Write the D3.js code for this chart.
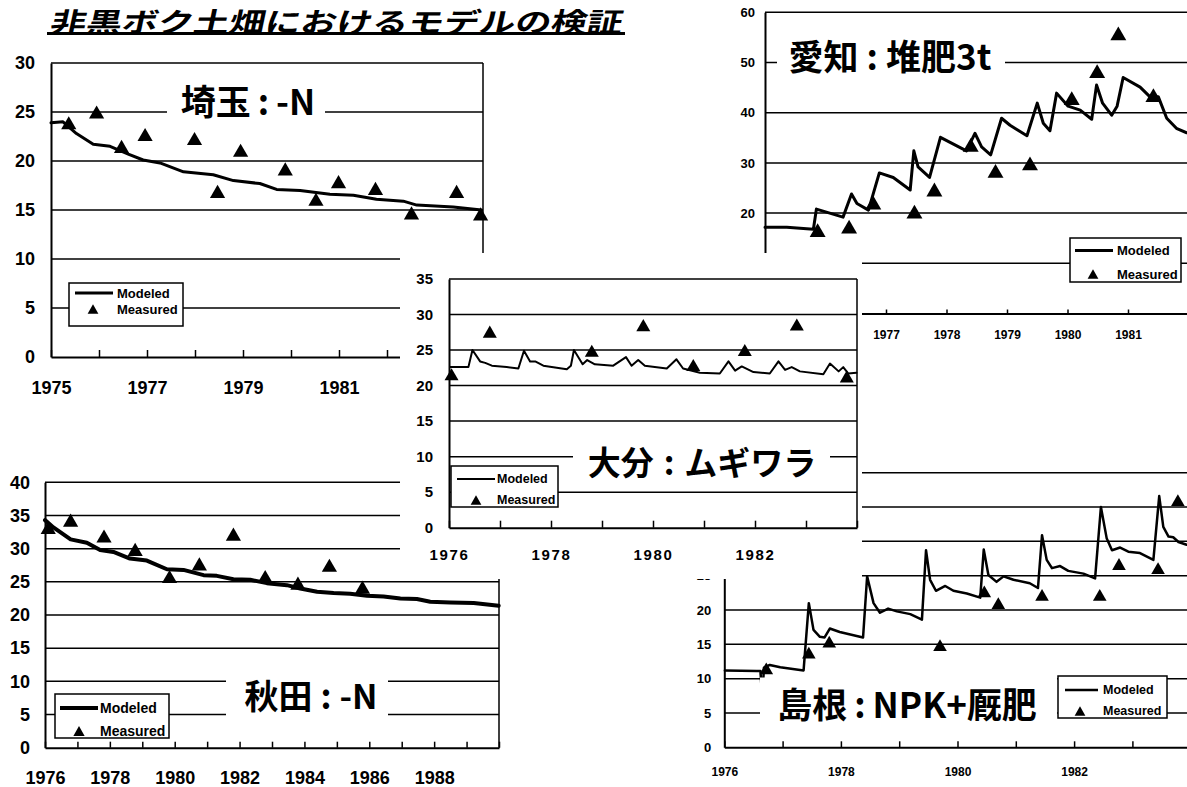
<!DOCTYPE html>
<html>
<head>
<meta charset="utf-8">
<script src="https://cdn.jsdelivr.net/npm/d3@7"></script>
<style>
  html, body { margin: 0; padding: 0; background: #fff; overflow: hidden; }
  svg { display: block; }
</style>
</head>
<body>
<svg id="chart" width="1187" height="787"></svg>
<script>
// ---------- data: [year, carbon] ----------
const titleText = "非黒ボク土畑におけるモデルの検証";
const legendLabels = ["Modeled", "Measured"];

// 埼玉:-N
const saitamaModeled = [[1975.0,23.9],[1975.25,24.0],[1975.53,22.8],[1975.88,21.7],[1976.23,21.5],[1976.61,20.7],[1976.92,20.1],[1977.27,19.8],[1977.76,18.9],[1978.38,18.6],[1978.8,18.0],[1979.35,17.7],[1979.7,17.1],[1980.19,17.0],[1980.81,16.6],[1981.3,16.5],[1981.78,16.1],[1982.34,15.9],[1982.62,15.5],[1983.38,15.3],[1983.97,15.0]];
const saitamaMeasured = [[1975.37,23.9],[1975.95,25.0],[1976.47,21.5],[1976.96,22.7],[1977.99,22.3],[1978.47,16.9],[1978.95,21.1],[1979.88,19.2],[1980.52,16.1],[1980.99,17.9],[1981.76,17.2],[1982.51,14.7],[1983.45,16.9],[1983.95,14.6]];
const saitamaGrid = [0,5,10,15,20,25,30];
const saitamaValueLabels = [0,5,10,15,20,25,30];
const saitamaYearLabels = [1975,1977,1979,1981];

// 愛知:堆肥3t
const aichiModeled = [[1975.0,17.2],[1975.36,17.2],[1975.8,16.8],[1975.85,20.8],[1976.29,19.2],[1976.43,23.8],[1976.52,21.9],[1976.71,20.6],[1976.89,28.0],[1977.12,27.1],[1977.4,24.6],[1977.46,32.4],[1977.53,29.2],[1977.72,27.1],[1977.9,35.1],[1978.33,32.4],[1978.47,35.9],[1978.58,33.2],[1978.73,31.6],[1978.91,38.9],[1979.05,37.5],[1979.33,35.4],[1979.5,41.9],[1979.6,37.9],[1979.71,36.4],[1979.82,43.9],[1980.01,41.3],[1980.21,40.5],[1980.4,38.7],[1980.48,45.5],[1980.58,41.9],[1980.73,39.5],[1980.82,41.3],[1980.92,47.0],[1981.2,45.1],[1981.36,43.2],[1981.5,43.2],[1981.64,38.9],[1981.8,36.9],[1981.97,36.0]];
const aichiMeasured = [[1975.87,16.6],[1976.39,17.3],[1976.79,22.1],[1977.47,20.3],[1977.8,24.7],[1978.4,33.6],[1978.81,28.4],[1979.38,29.9],[1980.07,42.9],[1980.49,48.3],[1980.84,55.8],[1981.42,43.5]];
const aichiGrid = [0,10,20,30,40,50,60];
const aichiValueLabels = [20,30,40,50,60];
const aichiYearLabels = [1977,1978,1979,1980,1981];

// 大分:ムギワラ
const oitaModeled = [[1976.02,22.6],[1976.38,22.6],[1976.46,25.0],[1976.61,23.4],[1976.71,23.2],[1976.84,22.8],[1977.13,22.6],[1977.36,22.4],[1977.47,24.9],[1977.59,23.4],[1977.69,23.4],[1977.85,22.8],[1978.31,22.3],[1978.39,22.8],[1978.45,25.0],[1978.62,23.0],[1978.71,23.6],[1978.86,23.0],[1979.22,22.8],[1979.47,24.0],[1979.58,22.8],[1979.71,23.6],[1979.84,22.8],[1980.27,22.4],[1980.46,23.7],[1980.59,22.4],[1980.92,21.8],[1981.31,21.7],[1981.48,23.4],[1981.61,22.1],[1981.74,22.7],[1981.97,21.9],[1982.29,21.7],[1982.46,23.4],[1982.59,22.2],[1982.72,22.6],[1982.88,22.0],[1983.34,21.6],[1983.47,23.1],[1983.64,22.0],[1983.73,22.6],[1983.83,21.7],[1983.99,21.8]];
const oitaMeasured = [[1976.05,21.6],[1976.8,27.6],[1978.8,24.9],[1979.81,28.5],[1980.79,22.9],[1981.8,25.0],[1982.82,28.6],[1983.8,21.3]];
const oitaGrid = [0,5,10,15,20,25,30,35];
const oitaValueLabels = [0,5,10,15,20,25,30,35];
const oitaYearLabels = [1976,1978,1980,1982];

// 秋田:-N
const akitaModeled = [[1976.0,34.3],[1976.26,33.2],[1976.79,31.4],[1977.29,30.9],[1977.7,29.8],[1978.11,29.5],[1978.62,28.5],[1979.14,28.2],[1979.76,26.9],[1980.27,26.8],[1980.89,26.0],[1981.3,25.9],[1981.81,25.4],[1982.33,25.3],[1982.84,24.8],[1983.46,24.5],[1983.87,24.0],[1984.39,23.5],[1984.9,23.3],[1985.41,23.2],[1985.93,22.9],[1986.44,22.8],[1986.96,22.5],[1987.47,22.4],[1987.88,22.0],[1988.5,21.9],[1989.22,21.8],[1989.99,21.4]];
const akitaMeasured = [[1976.1,33.2],[1976.79,34.3],[1977.82,31.9],[1978.78,29.9],[1979.84,25.8],[1980.76,27.7],[1981.81,32.2],[1982.79,25.8],[1983.8,24.8],[1984.77,27.5],[1985.79,24.2]];
const akitaGrid = [0,5,10,15,20,25,30,35,40];
const akitaValueLabels = [0,5,10,15,20,25,30,35,40];
const akitaYearLabels = [1976,1978,1980,1982,1984,1986,1988];

// 島根:NPK+厩肥
const shimaneModeled = [[1976.01,11.2],[1976.56,11.1],[1976.62,11.1],[1976.64,8.5],[1976.66,8.5],[1976.68,11.6],[1976.78,12.0],[1976.96,11.65],[1977.36,11.2],[1977.45,21.0],[1977.53,17.1],[1977.64,16.1],[1977.72,16.0],[1977.81,17.3],[1977.98,16.8],[1978.38,16.0],[1978.45,24.9],[1978.56,21.0],[1978.67,19.6],[1978.81,20.2],[1978.96,19.8],[1979.19,19.4],[1979.39,18.6],[1979.46,28.7],[1979.53,24.4],[1979.63,22.8],[1979.79,23.5],[1979.93,22.8],[1980.16,22.4],[1980.39,21.8],[1980.45,28.8],[1980.53,25.1],[1980.67,24.1],[1980.79,24.9],[1980.96,24.4],[1981.24,23.9],[1981.38,23.2],[1981.45,30.9],[1981.53,27.3],[1981.62,26.1],[1981.76,26.4],[1981.9,25.7],[1982.16,25.3],[1982.36,24.6],[1982.46,35.0],[1982.56,30.4],[1982.65,28.7],[1982.79,29.1],[1982.93,28.5],[1983.13,28.3],[1983.36,27.3],[1983.46,36.6],[1983.53,32.1],[1983.62,30.7],[1983.7,30.6],[1983.79,29.9],[1983.93,29.5]];
const shimaneMeasured = [[1976.72,11.5],[1977.45,13.8],[1977.8,15.4],[1979.7,14.9],[1980.46,22.7],[1980.7,21.0],[1981.45,22.2],[1982.44,22.2],[1982.77,26.7],[1983.44,26.1],[1983.78,36.0]];
const shimaneGrid = [0,5,10,15,20,25,30,35,40];
const shimaneValueLabels = [0,5,10,15,20,25];
const shimaneYearLabels = [1976,1978,1980,1982];

// ---------- drawing ----------
const svg = d3.select("#chart");
const AXIS_FONT = "'Liberation Sans', Arial, sans-serif";
const CJK_FONT = "'Noto Sans CJK JP', 'Noto Sans', sans-serif";

// triangle centred on its bounding box
const triangleMark = {
  draw(ctx, size) {
    const s = Math.sqrt(size * 4 / Math.sqrt(3));
    const h = s * Math.sqrt(3) / 2;
    ctx.moveTo(0, -h / 2);
    ctx.lineTo(s / 2, h / 2);
    ctx.lineTo(-s / 2, h / 2);
    ctx.closePath();
  }
};

function drawPanel(cfg) {
  const g = svg.append("g");
  const x = d3.scaleLinear().domain(cfg.xDomain).range([cfg.left, cfg.right]);
  const y = d3.scaleLinear().domain(cfg.yDomain).range([cfg.bottom, cfg.top]);

  if (cfg.background) {
    const b = cfg.background;
    g.append("rect").attr("x", b[0]).attr("y", b[1]).attr("width", b[2]).attr("height", b[3]).attr("fill", "#fff");
  }

  // horizontal gridlines (the highest one is the frame top)
  g.append("g").selectAll("line")
    .data(cfg.grid.filter(v => v > cfg.yDomain[0]))
    .join("line")
    .attr("x1", cfg.left).attr("x2", cfg.right)
    .attr("y1", d => y(d)).attr("y2", d => y(d))
    .attr("stroke", "#000").attr("stroke-width", 1.5);

  // right frame edge
  g.append("line")
    .attr("x1", cfg.right).attr("x2", cfg.right)
    .attr("y1", cfg.top).attr("y2", cfg.bottom)
    .attr("stroke", "#000").attr("stroke-width", 1.5);

  // y axis
  const yAxis = d3.axisLeft(y).tickValues(cfg.valueLabels).tickSize(0).tickPadding(cfg.yPad).tickFormat(d3.format("d"));
  const ya = g.append("g").attr("transform", `translate(${cfg.left},0)`).call(yAxis);
  ya.select(".domain").attr("stroke", "#000").attr("stroke-width", 2);
  ya.selectAll("text").attr("font-family", AXIS_FONT).attr("font-weight", "bold")
    .attr("font-size", cfg.yFont).attr("fill", "#000");

  // x axis with inward year ticks
  const years = d3.range(Math.ceil(cfg.xDomain[0]), Math.floor(cfg.xDomain[1]) + 1);
  const xAxis = d3.axisBottom(x).tickValues(years).tickSizeInner(-cfg.tickLen).tickSizeOuter(0)
    .tickPadding(cfg.xPad).tickFormat(d => cfg.yearLabels.includes(d) ? String(d) : "");
  const xa = g.append("g").attr("transform", `translate(0,${cfg.bottom})`).call(xAxis);
  xa.select(".domain").attr("stroke", "#000").attr("stroke-width", 2);
  xa.selectAll(".tick line").attr("stroke", "#000").attr("stroke-width", 1.5);
  xa.selectAll("text").attr("font-family", AXIS_FONT).attr("font-weight", "bold")
    .attr("font-size", cfg.xFont).attr("fill", "#000")
    .attr("letter-spacing", cfg.xSpacing || 0);
  xa.selectAll(".tick").filter(d => !cfg.yearLabels.includes(d)).select("text").remove();

  // modeled line
  const line = d3.line().x(d => x(d[0])).y(d => y(d[1]));
  g.append("path").datum(cfg.modeled)
    .attr("d", line).attr("fill", "none")
    .attr("stroke", "#000").attr("stroke-width", cfg.lineWidth)
    .attr("stroke-linejoin", "round").attr("stroke-linecap", "round");

  // measured points
  const sym = d3.symbol().type(triangleMark).size(cfg.markSize);
  g.append("g").selectAll("path").data(cfg.measured).join("path")
    .attr("transform", d => `translate(${x(d[0])},${y(d[1])})`)
    .attr("d", sym).attr("fill", "#000");

  // site label on a white backing, laid over the plot; extra room around the colon
  const L = cfg.label;
  g.append("rect").attr("x", L.box[0]).attr("y", L.box[1]).attr("width", L.box[2]).attr("height", L.box[3]).attr("fill", "#fff");
  const parts = L.text.split(":");
  const t = g.append("text")
    .attr("x", L.cx).attr("y", L.cy)
    .attr("text-anchor", "middle").attr("dominant-baseline", "central")
    .attr("font-family", CJK_FONT).attr("font-weight", 700).attr("font-size", L.fs)
    .attr("fill", "#000");
  t.append("tspan").text(parts[0]);
  t.append("tspan").attr("dx", L.gap).text(":");
  t.append("tspan").attr("dx", L.gap).text(parts[1]);

  // legend
  const lg = cfg.legend;
  const leg = g.append("g").attr("transform", `translate(${lg.x},${lg.y})`);
  leg.append("rect").attr("width", lg.w).attr("height", lg.h)
    .attr("fill", "#fff").attr("stroke", "#000").attr("stroke-width", 1.5);
  leg.append("line").attr("x1", lg.lineX[0]).attr("x2", lg.lineX[1])
    .attr("y1", lg.rowY[0]).attr("y2", lg.rowY[0])
    .attr("stroke", "#000").attr("stroke-width", cfg.lineWidth);
  leg.append("path").attr("transform", `translate(${lg.triX},${lg.rowY[1]})`)
    .attr("d", d3.symbol().type(triangleMark).size(lg.triSize)).attr("fill", "#000");
  leg.selectAll("text").data(legendLabels).join("text")
    .attr("x", lg.textX).attr("y", (d, i) => lg.rowY[i])
    .attr("dominant-baseline", "central")
    .attr("font-family", AXIS_FONT).attr("font-weight", "bold").attr("font-size", lg.fs)
    .attr("fill", "#000")
    .text(d => d);
}

// 埼玉
drawPanel({
  left: 51, right: 483, top: 63, bottom: 357,
  xDomain: [1975, 1984], yDomain: [0, 30], grid: saitamaGrid, valueLabels: saitamaValueLabels, yearLabels: saitamaYearLabels,
  yFont: 18, xFont: 18, yPad: 16, xPad: 24, tickLen: 7,
  modeled: saitamaModeled, measured: saitamaMeasured, lineWidth: 3, markSize: 100,
  label: { text: "埼玉:-N", cx: 248, cy: 99, fs: 35, gap: 7, box: [167, 84, 158, 34] },
  legend: { x: 69, y: 283, w: 114, h: 43, lineX: [6, 44], textX: 48, rowY: [10, 26], triX: 24, triSize: 50, fs: 13 }
});

// 愛知
drawPanel({
  left: 765, right: 1188.5, top: 12.3, bottom: 313.5,
  xDomain: [1975, 1982], yDomain: [0, 60], grid: aichiGrid, valueLabels: aichiValueLabels, yearLabels: aichiYearLabels,
  yFont: 13, xFont: 12, yPad: 10, xPad: 17, tickLen: 4,
  modeled: aichiModeled, measured: aichiMeasured, lineWidth: 3, markSize: 110,
  label: { text: "愛知:堆肥3t", cx: 890, cy: 54, fs: 35, gap: 8, box: [777, 38, 228, 34] },
  legend: { x: 1070, y: 238, w: 111, h: 44, lineX: [5, 43], textX: 47, rowY: [12.5, 36], triX: 23, triSize: 50, fs: 13 }
});

// 秋田
drawPanel({
  left: 45, right: 499, top: 482.3, bottom: 747.7,
  xDomain: [1976, 1990], yDomain: [0, 40], grid: akitaGrid, valueLabels: akitaValueLabels, yearLabels: akitaYearLabels,
  yFont: 18, xFont: 18, yPad: 15, xPad: 24, tickLen: 6,
  modeled: akitaModeled, measured: akitaMeasured, lineWidth: 4, markSize: 100,
  label: { text: "秋田:-N", cx: 311, cy: 694, fs: 34, gap: 8, box: [226, 676, 162, 46] },
  legend: { x: 55, y: 694, w: 114, h: 44, lineX: [5, 43], textX: 45, rowY: [14, 37], triX: 24, triSize: 55, fs: 14 }
});

// 島根
drawPanel({
  left: 724.3, right: 1190.7, top: 472.7, bottom: 747.3,
  xDomain: [1976, 1984], yDomain: [0, 40], grid: shimaneGrid, valueLabels: shimaneValueLabels, yearLabels: shimaneYearLabels,
  yFont: 13, xFont: 12, yPad: 13, xPad: 20, tickLen: 6,
  modeled: shimaneModeled, measured: shimaneMeasured, lineWidth: 2.5, markSize: 80,
  label: { text: "島根:NPK+厩肥", cx: 907, cy: 702, fs: 35, gap: 7, box: [760, 677.5, 297, 48] },
  legend: { x: 1058, y: 676, w: 109, h: 42, lineX: [7, 40], textX: 45, rowY: [14, 35], triX: 22, triSize: 50, fs: 12.5 }
});

// 大分 (laid over the others)
drawPanel({
  background: [400, 253, 462, 326],
  left: 449, right: 857, top: 279, bottom: 527.7,
  xDomain: [1976, 1984], yDomain: [0, 35], grid: oitaGrid, valueLabels: oitaValueLabels, yearLabels: oitaYearLabels,
  yFont: 15, xFont: 15, xSpacing: 1.7, yPad: 16, xPad: 22, tickLen: 7,
  modeled: oitaModeled, measured: oitaMeasured, lineWidth: 2, markSize: 85,
  label: { text: "大分:ムギワラ", cx: 702, cy: 461, fs: 33, gap: 10, box: [573, 444, 257, 34] },
  legend: { x: 451, y: 466, w: 107, h: 41, lineX: [6, 44], textX: 46, rowY: [13, 34], triX: 25, triSize: 50, fs: 12.5 }
});

// page title, slanted and underlined
const tg = svg.append("g").attr("transform", "translate(49,32) skewX(-12)");
tg.append("text")
  .attr("x", 0).attr("y", 0)
  .attr("font-family", CJK_FONT).attr("font-weight", 700).attr("font-size", 27)
  .attr("textLength", 572).attr("lengthAdjust", "spacingAndGlyphs")
  .attr("fill", "#000")
  .text(titleText);
svg.append("line").attr("x1", 47).attr("x2", 625).attr("y1", 33.5).attr("y2", 33.5)
  .attr("stroke", "#000").attr("stroke-width", 3);
</script>
</body>
</html>
